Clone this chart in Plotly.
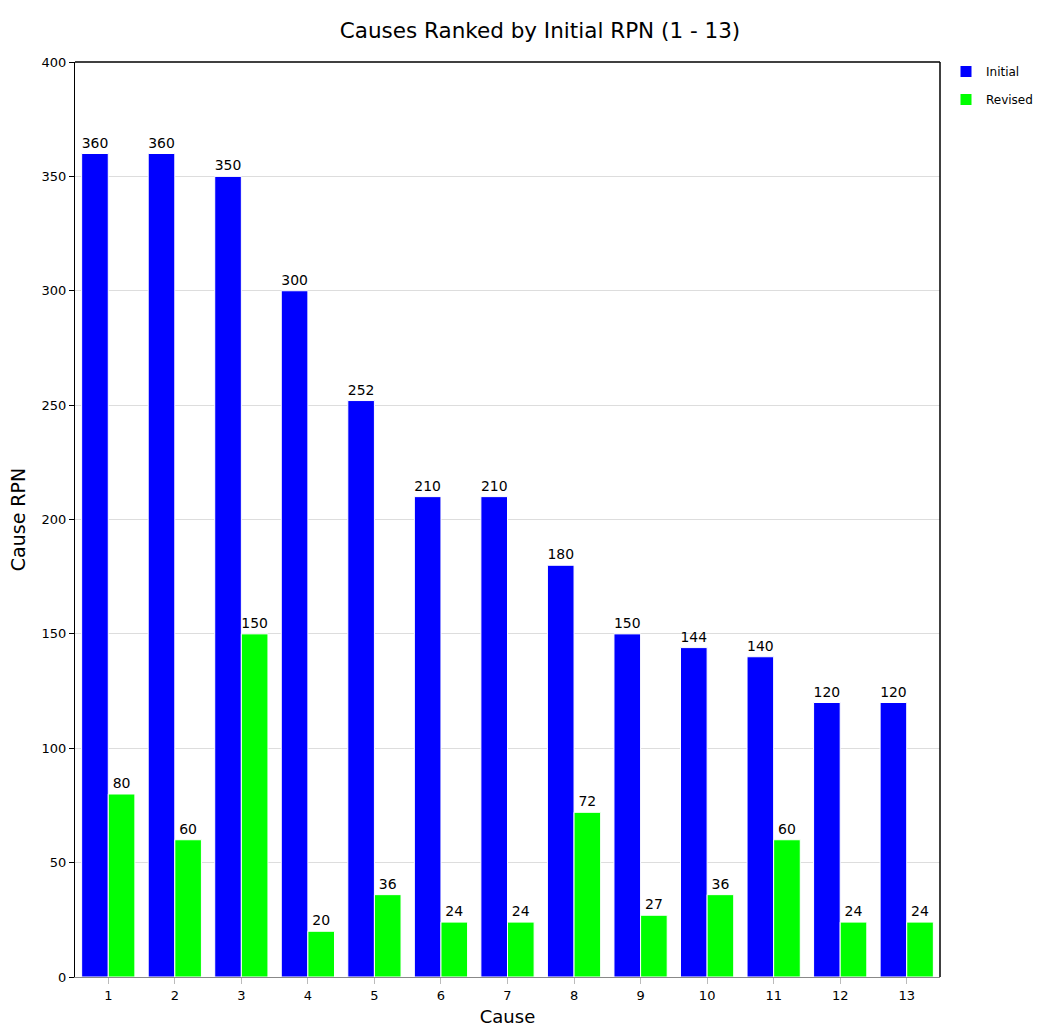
import plotly.graph_objects as go

causes = [str(i) for i in range(1, 14)]
initial = [360, 360, 350, 300, 252, 210, 210, 180, 150, 144, 140, 120, 120]
revised = [80, 60, 150, 20, 36, 24, 24, 72, 27, 36, 60, 24, 24]

FONT = "DejaVu Sans"
W, H = 1040, 1028

fig = go.Figure()
fig.add_trace(go.Bar(x=causes, y=initial, name="Initial", legendgroup="a",
                     marker=dict(color="#0000FF", line=dict(color="#ffffff", width=1)),
                     text=initial, textposition="outside", textfont=dict(size=14, color="#000"), cliponaxis=False))
fig.add_trace(go.Bar(x=causes, y=revised, name="Revised", legendgroup="b",
                     marker=dict(color="#00FF00", line=dict(color="#ffffff", width=1)),
                     text=revised, textposition="outside", textfont=dict(size=14, color="#000"), cliponaxis=False))

fig.update_layout(
    width=W, height=H,
    margin=dict(l=75, r=100, t=62, b=51, autoexpand=False),
    paper_bgcolor="white", plot_bgcolor="white",
    barmode="group", bargap=0.2, bargroupgap=0.0,
    font=dict(family=FONT, size=13, color="#000"),
    title=dict(text="Causes Ranked by Initial RPN (1 - 13)", x=540 / W, xanchor="center", y=1 - 30 / H,
               yanchor="middle", font=dict(size=21.5, family=FONT)),
    legend=dict(xref="container", yref="container", x=946 / W, y=1 - 57 / H, xanchor="left", yanchor="top",
                font=dict(size=12), tracegroupgap=9, bgcolor="rgba(0,0,0,0)"),
    showlegend=True,
    xaxis=dict(title=dict(text="Cause", font=dict(size=18), standoff=8), showgrid=False, automargin=False,
               showline=True, linecolor="#888", linewidth=1, mirror=False,
               ticks="outside", ticklen=6, tickcolor="#bbb", tickfont=dict(size=13),
               range=[-0.5, 12.5]),
    yaxis=dict(title=dict(text="Cause RPN", font=dict(size=19), standoff=10), range=[0, 400], dtick=50,
               automargin=False,
               showgrid=True, gridcolor="#dddddd", gridwidth=1, zeroline=False,
               showline=True, linecolor="#000", linewidth=1, mirror=False,
               ticks="outside", ticklen=5, tickcolor="#000", tickfont=dict(size=13)),
)
fig.add_shape(type="line", xref="paper", yref="paper", x0=0, x1=1, y0=1, y1=1, line=dict(color="#000", width=1.5))
fig.add_shape(type="line", xref="paper", yref="paper", x0=1, x1=1, y0=0, y1=1, line=dict(color="#000", width=1.5))

fig.write_html("out.html", config={"displayModeBar": False},
               post_script="document.body.style.margin='0';document.body.style.overflow='hidden';")
